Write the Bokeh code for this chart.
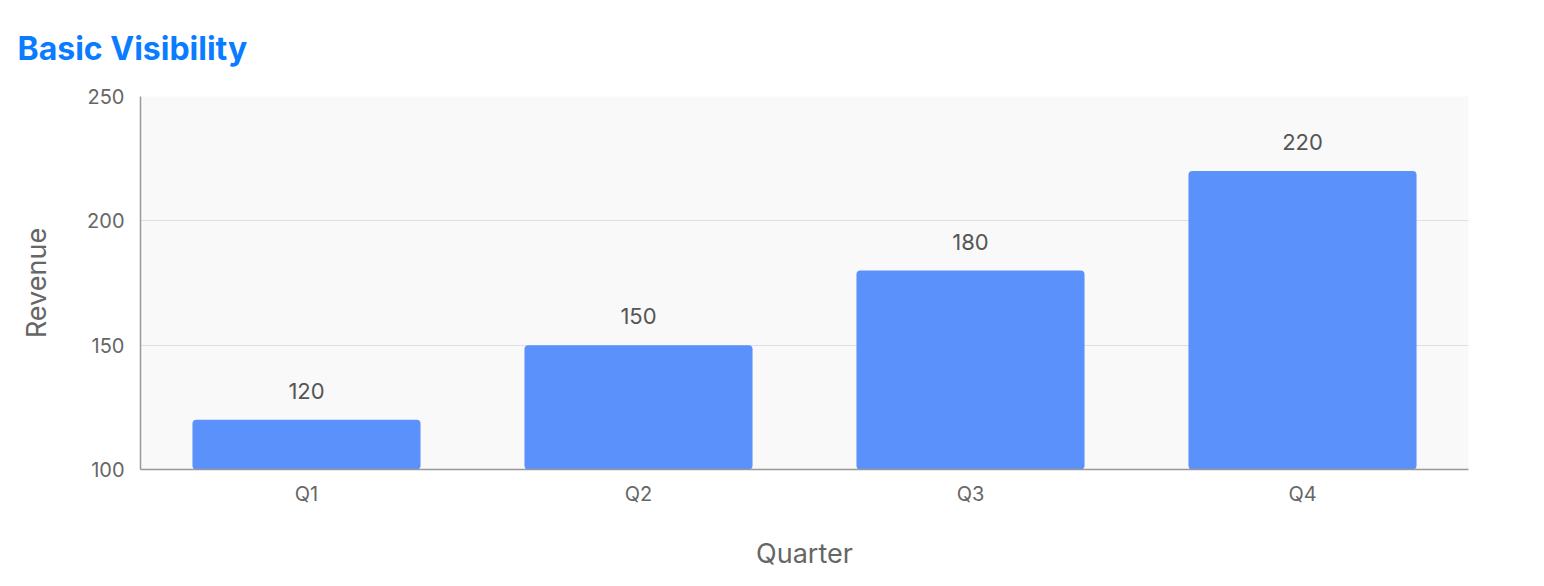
from bokeh.plotting import figure
from bokeh.models import ColumnDataSource, Range1d, FixedTicker, LabelSet
from bokeh.core.properties import value
from bokeh.embed import file_html
from bokeh.resources import INLINE

title_text = "Basic Visibility"
quarters = ["Q1", "Q2", "Q3", "Q4"]
revenue = [120, 150, 180, 220]
y_ticks = [100, 150, 200, 250]

FONT = "Inter"

src = ColumnDataSource(dict(q=quarters, r=revenue, lbl=[str(v) for v in revenue]))

p = figure(x_range=quarters, y_range=Range1d(100, 250), width=1544, height=579,
           output_backend="svg", toolbar_location=None,
           min_border_left=140, min_border_right=76, min_border_top=96, min_border_bottom=110,
           background_fill_color="#f9f9f9", border_fill_color="white", outline_line_color=None)

p.title.text = title_text
p.title.text_font = FONT
p.title.text_font_size = "32px"
p.title.text_font_style = "bold"
p.title.text_color = "#0a7cff"
p.title.offset = -123
p.title.vertical_align = "top"
p.title.standoff = 54

p.vbar(x="q", top="r", bottom=100, width=0.687, source=src, fill_color="#5b91fa",
       line_color=None, border_radius=4)

labels = LabelSet(x="q", y="r", text="lbl", source=src, text_align="center",
                  text_baseline="bottom", y_offset=21, text_font=value(FONT),
                  text_font_size="22px", text_color="#555555")
p.add_layout(labels)

p.yaxis.ticker = FixedTicker(ticks=y_ticks)
p.yaxis.axis_label = "Revenue"
p.xaxis.axis_label = "Quarter"
for ax in (p.xaxis, p.yaxis):
    ax.axis_label_text_font = FONT
    ax.axis_label_text_font_style = "normal"
    ax.axis_label_text_color = "#666666"
    ax.axis_label_text_font_size = "27px"
    ax.major_label_text_font = FONT
    ax.major_label_text_font_size = "20px"
    ax.major_label_text_color = "#666666"
    ax.major_tick_line_color = None
    ax.minor_tick_line_color = None
    ax.axis_line_color = "#999999"
    ax.axis_line_width = 1.5
p.yaxis.major_label_standoff = 10
p.xaxis.major_label_standoff = 6
p.xaxis.axis_label_standoff = 28
p.yaxis.axis_label_standoff = 31

p.xgrid.grid_line_color = None
p.ygrid.grid_line_color = "#e0e0e0"
p.ygrid.grid_line_width = 1

open("out.html", "w").write(file_html(p, INLINE))
